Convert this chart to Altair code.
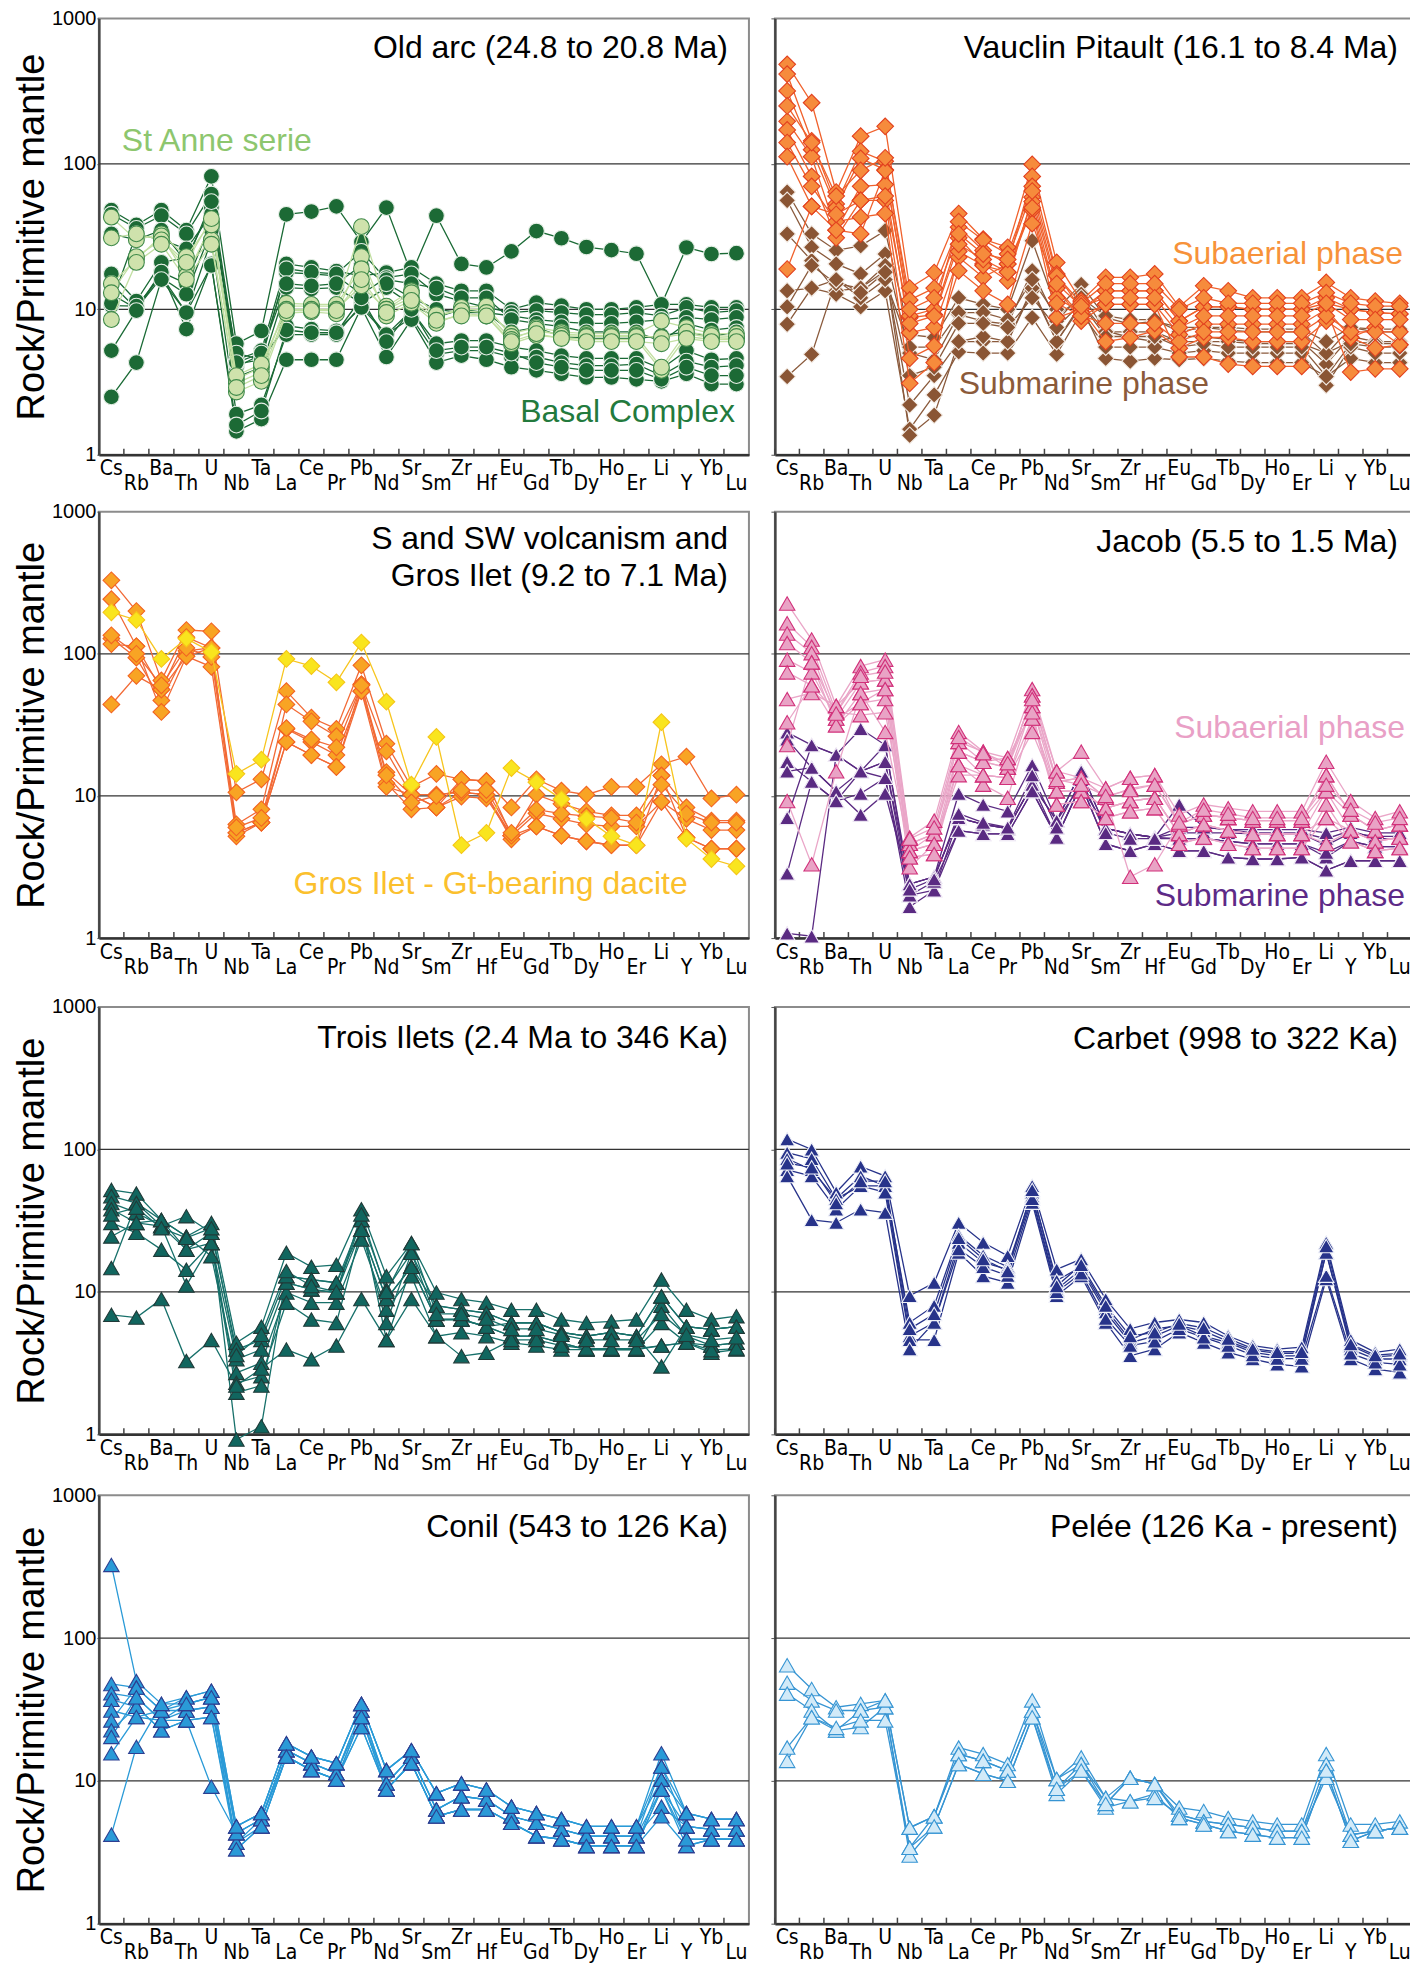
import json
import altair as alt
import pandas as pd

ELEMENTS = ["Cs", "Rb", "Ba", "Th", "U", "Nb", "Ta", "La", "Ce", "Pr", "Pb", "Nd", "Sr",
            "Sm", "Zr", "Hf", "Eu", "Gd", "Tb", "Dy", "Ho", "Er", "Li", "Y", "Yb", "Lu"]
LOWER_ROW = ELEMENTS[1::2]
GRID_VALUES = [10, 100]

# ---------------- Old arc ----------------
OLD_BASAL = [
    [48, 38, 48, 35, 82, 5.8, 7.1, 45, 47, 51, 29, 50, 17.5, 44, 20.5, 19.4, 25, 34.5, 30.8, 26.8, 25.5, 24.1, 10.8, 26.6, 24, 24.3],
    [45, 36, 44, 33, 62, 4.5, 5.2, 20.5, 19.4, 18.3, 17, 17.9, 19.4, 15, 13.4, 13.4, 10, 11.1, 10.6, 10, 10, 10.3, 10.8, 10.8, 10.3, 10.3],
    [17.5, 11.4, 21, 22.6, 50, 4, 4.9, 17.9, 17.5, 17, 12.7, 16.5, 17.5, 12.7, 11.4, 10.3, 9.5, 9.8, 9.5, 9.2, 9.2, 9.5, 9, 10.3, 9.5, 9.8],
    [15, 10.1, 18, 15, 40, 3.4, 4, 14.1, 13.8, 14.1, 11, 14.1, 10.8, 8.8, 10, 9.5, 9, 8.5, 8.2, 8, 8, 8.2, 8.5, 8.8, 8.5, 8.8],
    [12.7, 10.1, 16.5, 12.7, 35, 4.2, 4.5, 7.7, 7.3, 7.1, 10.3, 6.7, 9.8, 5.8, 6.1, 6.1, 5.5, 5.2, 4.8, 4.6, 4.6, 4.6, 3.9, 5.2, 4.5, 4.6],
    [10.6, 10.5, 17, 9.5, 30, 1.9, 2.2, 6.7, 6.7, 6.7, 10.8, 6.7, 8.8, 4.9, 5.2, 5.2, 4.7, 4.7, 4.3, 4.1, 4.1, 4.2, 3.5, 4.4, 4, 4.1],
    [5.2, 9.8, 18, 7.3, 20.5, 1.45, 1.76, 4.5, 4.5, 4.5, 10.3, 4.7, 8.5, 4.3, 4.8, 4.5, 4, 3.8, 3.6, 3.4, 3.4, 3.3, 3.2, 3.6, 3.06, 3.06],
    [2.5, 4.3, 16, 9.5, 20, 1.6, 2.0, 7.2, 6.9, 6.9, 12, 6, 10, 5.2, 5.5, 5.5, 5, 4.3, 4.0, 3.8, 3.8, 3.8, 3.3, 4, 3.5, 3.5],
    [11, 33, 30, 26, 45, 5, 4.5, 19, 18, 17.5, 25, 16, 15, 14, 12, 12, 8.5, 8, 7.6, 7, 7, 7, 6, 8, 7.2, 7.5],
    [33, 30, 35, 21, 55, 4.3, 5, 15, 14.5, 15, 20, 15, 12, 10, 9.5, 9.5, 7, 7.5, 6.5, 6.3, 6.3, 6.3, 6.6, 7, 6.5, 7],
]
OLD_STANNE = [
    [43, 30, 33, 23, 40, 3.3, 4, 10.5, 10.5, 10.5, 37, 10.5, 13.4, 9, 10, 10, 6.8, 7.5, 7, 6.8, 6.8, 6.8, 8.3, 7.5, 6.8, 6.8],
    [31, 33, 30, 19.4, 30, 2.7, 3.2, 9.4, 9.6, 9.3, 23, 9, 11, 8, 9.4, 9, 5.8, 6.6, 6.4, 6.2, 6.2, 6.2, 3.8, 6.5, 6.2, 6.2],
    [15, 22, 32, 17, 38, 3.1, 3.7, 11, 10.8, 10.8, 19, 10, 12, 8.8, 10.3, 10.5, 6.5, 7, 6.8, 6.6, 6.6, 6.6, 6.4, 6.8, 6.4, 6.3],
    [13, 23, 30, 21, 42, 3.5, 4.2, 10, 10, 10, 14.5, 10, 13, 9.2, 9.8, 9.5, 6.2, 7.3, 6.6, 6.5, 6.5, 6.5, 4, 7, 6.6, 6.5],
    [8.5, 21, 28, 16, 28, 2.9, 3.5, 9.8, 9.8, 9.8, 16, 9.5, 11.5, 8.4, 9, 9, 6, 6.8, 6.3, 6, 6, 6, 5.8, 6.3, 6, 6],
]

# ---------------- Vauclin Pitault ----------------
VP_SUBAERIAL = [
    [483, 263, 64, 155, 181, 14, 17.9, 45.5, 30.4, 26.7, 99, 21, 11.4, 16.6, 16.6, 17.5, 10.4, 14.5, 13.4, 12, 12, 12, 15.3, 12, 11.4, 11],
    [414, 144, 53, 122, 104, 11.6, 14, 36.7, 25.4, 20.5, 82, 17.5, 10, 13.4, 13.4, 13.4, 8.3, 10.4, 10.4, 10, 10, 10, 12, 10, 9.5, 9.3],
    [317, 125, 50, 109, 91, 8.75, 9.2, 31, 20.5, 15.7, 59, 14, 8.3, 10.8, 10.8, 10.8, 6.7, 7.9, 7.9, 7.9, 7.9, 7.9, 10, 6.4, 7.5, 5.7],
    [196, 112, 35, 70, 72, 6.9, 7.5, 22.8, 16.6, 20.5, 48, 8.75, 10, 6, 6.4, 7.1, 5.4, 6.4, 6.4, 6, 6, 6, 8.3, 6.4, 5.4, 5.7],
    [171, 82, 31, 56, 56, 4.6, 5.6, 18.4, 13.4, 10.8, 38.8, 14, 9, 10.8, 10.8, 10.8, 4.7, 4.7, 4.2, 4.05, 4.05, 4.05, 10, 3.7, 3.9, 3.9],
    [140, 70, 40, 43, 45.5, 3.1, 4.3, 25, 20, 18, 55, 12, 9.5, 13.4, 13.4, 13.4, 8.3, 10.4, 10.4, 10, 10, 10, 11, 10, 9.5, 9.3],
    [112, 51, 35, 33, 90, 9, 10, 40, 30, 24, 70, 17, 11, 15, 15, 15, 10, 12, 11, 11, 11, 11, 13, 11, 10.5, 10.5],
    [18.9, 51, 45, 56, 60, 8, 9, 28, 22, 18, 50, 11, 9, 8, 8, 8, 6, 7, 7, 7, 7, 7, 9, 7, 7, 7],
    [250, 140, 60, 90, 110, 10, 12, 33, 24, 22, 65, 15, 10.5, 12, 12, 12, 7.5, 9, 9, 9, 9, 9, 11, 8.5, 8.5, 8.5],
]
VP_SUBMARINE = [
    [64, 33, 25.4, 27.3, 34.7, 6.7, 6.4, 12, 10.8, 10, 29.6, 10, 14.8, 8.75, 7.9, 8.3, 7.5, 7.5, 7.2, 7, 7, 7, 4.9, 7.5, 7, 7],
    [56, 26.7, 20.5, 17.5, 24, 5, 4.5, 9.2, 8.3, 7.9, 18.4, 8.3, 12.7, 7.1, 6.4, 6, 6.5, 6.5, 6.2, 6, 6, 6, 4.2, 6.5, 6, 6],
    [33, 21.6, 13.4, 14, 18.4, 2.2, 3.5, 6, 6, 6, 13.4, 6, 10.5, 4.6, 4.4, 4.6, 4.5, 4.6, 4.4, 4.3, 4.3, 4.3, 3.45, 4.6, 4.3, 4.3],
    [13.4, 14, 12.7, 10.4, 13.4, 1.5, 2.58, 5.1, 5, 5, 8.75, 4.9, 9.5, 5.5, 5.5, 5.5, 5, 5.2, 5, 5, 5, 5, 3.0, 5.5, 5, 5],
    [10.4, 20, 15, 14, 20, 1.36, 1.87, 6, 6.5, 6, 14, 6, 11, 7, 7, 7, 6, 6, 6, 5.8, 5.8, 5.8, 5, 6, 5.8, 5.8],
    [7.9, 14, 16, 12, 16, 5.5, 5.5, 9.5, 9.5, 8.5, 16, 9, 12, 9, 8.5, 8.5, 7, 7.5, 7.5, 7.3, 7.3, 7.3, 6, 7.5, 7.3, 7.3],
    [3.45, 4.9, 16, 13, 18, 3.5, 4, 8, 8, 7.5, 12, 7.5, 11, 6.5, 6.5, 6.5, 5.5, 5.8, 5.5, 5.5, 5.5, 5.5, 3.45, 5.8, 5.5, 5.5],
]

# ---------------- S and SW volcanism / Gros Ilet ----------------
SSW_ORANGE = [
    [329, 200, 65, 147, 144, 10.6, 13.1, 54.6, 35.5, 29.6, 83, 23.3, 11.6, 14.3, 13.1, 12.7, 8.3, 13.1, 10.9, 10.2, 11.6, 11.6, 16.7, 18.9, 9.6, 10.2],
    [242, 113, 56, 131, 110, 6.3, 8.05, 44, 33.5, 26.3, 61, 20.6, 10.2, 10.2, 10.6, 10.2, 5.25, 10.2, 8.8, 7.8, 7.3, 7.3, 13.9, 8.3, 6.7, 6.7],
    [128, 94, 47, 105, 110, 5.5, 6.5, 29.6, 24, 19.4, 54.6, 14.7, 10.2, 8.3, 9.9, 9.6, 5.25, 7.55, 6.9, 6.3, 6.1, 6.1, 9.1, 6.9, 5.75, 5.75],
    [117, 113, 39, 96, 81, 5.2, 6.5, 24, 19.4, 16, 61, 12.3, 8.05, 8.3, 10.6, 10.2, 4.95, 6.1, 5.25, 4.8, 4.5, 4.5, 13.9, 5.1, 4.25, 4.25],
    [44, 70, 56, 96, 110, 5.5, 6.5, 24, 19.4, 16, 54.6, 11.6, 10.2, 8.3, 13.1, 12.7, 5.25, 6.1, 5.25, 4.8, 4.5, 4.5, 9.1, 5.1, 4.25, 4.25],
    [135, 100, 60, 110, 95, 6, 7, 30, 25, 22, 60, 14, 9, 10, 11, 11, 5.5, 8, 7.5, 7.2, 7, 6.5, 12, 7.5, 6.5, 6.5],
]
SSW_DACITE = [
    [196, 173, 92, 128, 103, 14.3, 18, 92, 82, 63, 120, 46, 12, 26, 4.5, 5.5, 15.7, 12.5, 9.5, 6.9, 5.2, 4.5, 33, 5, 3.6, 3.2],
]

# ---------------- Jacob ----------------
JACOB_SUBAERIAL = [
    [226, 126, 43, 82, 91, 5.1, 6.7, 28.2, 20.5, 18.5, 56.5, 14.9, 20.5, 11.3, 13.4, 14, 7.4, 8.7, 8.2, 7.8, 7.8, 7.8, 17.4, 9.2, 7, 7.8],
    [164, 112, 38.8, 74, 82, 4.6, 5.4, 24, 17.4, 15.8, 51, 12.6, 13.4, 9.7, 11.3, 12, 6.3, 7.4, 7, 6.7, 6.7, 6.7, 14, 7.4, 5.7, 6.3],
    [139, 101, 35, 63, 66, 4.1, 4.6, 20.5, 14, 13.4, 43, 10.8, 10.8, 8.2, 9.2, 9.7, 5.4, 6.3, 5.7, 5.4, 5.4, 5.4, 10.8, 5.7, 4.8, 5.1],
    [119, 87, 31.4, 53, 56.5, 3.7, 3.9, 16.5, 12, 9.7, 35, 8.7, 9.2, 7, 7.8, 8.2, 4.6, 5.1, 4.6, 4.3, 4.3, 4.3, 8.7, 4.8, 4.1, 4.3],
    [91, 74, 35, 45, 48, 3.15, 4.6, 14, 14, 13.4, 28.2, 10.8, 10.8, 8.2, 9.2, 9.7, 5.4, 6.3, 5.7, 5.4, 5.4, 5.4, 7, 5.7, 4.8, 5.1],
    [74, 60, 38.8, 37, 38.8, 4.6, 5.4, 20.5, 17.4, 15.8, 43, 12.6, 13.4, 9.7, 2.7, 3.3, 6.3, 7.4, 7, 6.7, 6.7, 6.7, 10.8, 7.4, 5.7, 6.3],
    [48, 53, 43, 63, 66, 4.1, 5.4, 24, 20.5, 15.8, 51, 14.9, 13.4, 11.3, 13.4, 14, 6.3, 7.4, 7, 6.7, 6.7, 6.7, 14, 7.4, 5.7, 6.3],
    [9.2, 3.3, 14.9, 53, 28.2, 4.1, 4.6, 16.5, 14, 13.4, 35, 10.8, 10.8, 8.2, 9.2, 9.7, 5.4, 6.3, 5.7, 5.4, 5.4, 5.4, 4.6, 5.7, 4.8, 5.1],
    [33, 60, 31.4, 45, 56.5, 3.7, 3.9, 20.5, 17.4, 18.5, 38.8, 8.7, 9.2, 7, 7.8, 8.2, 4.6, 5.1, 4.6, 4.3, 4.3, 4.3, 7, 4.8, 4.1, 4.3],
    [22.8, 87, 38, 70, 75, 5, 6, 26, 20, 17, 48, 13, 12, 10, 11, 12, 6.5, 8, 7.5, 7, 7, 7, 12, 8, 6.5, 7],
]
JACOB_SUBMARINE = [
    [28, 22.8, 19.5, 29.7, 22.8, 2.4, 2.7, 10.4, 8.7, 7.8, 16.5, 6.7, 14.9, 5.9, 5.4, 5.1, 8.7, 6, 5.8, 5.5, 5.5, 5.5, 5, 5.7, 5, 5],
    [25, 15.8, 10.8, 14.9, 17.4, 2.0, 2.17, 7, 6.3, 5.9, 12, 5.1, 12, 4.6, 4.1, 4.6, 4.1, 4.1, 3.7, 3.6, 3.6, 3.7, 3.0, 3.5, 3.5, 3.5],
    [17.4, 12.6, 9.2, 10.4, 13.4, 1.66, 2.17, 5.7, 5.4, 5.4, 10.8, 5.1, 12, 5.9, 5.4, 5.1, 5, 5, 4.8, 4.6, 4.6, 4.6, 3.7, 4.8, 4.4, 4.4],
    [14.9, 15.8, 10.8, 7.4, 10.4, 2.4, 2.7, 7, 6.3, 5.9, 12, 6.7, 12, 5.9, 5.4, 5.1, 5.5, 5.5, 5.5, 5.4, 5.4, 5.4, 4.5, 5.5, 5.2, 5.2],
    [7.0, 22.8, 19.5, 14.9, 17.4, 2.4, 2.7, 7, 6.3, 5.9, 12, 6.7, 14.9, 5.9, 5.4, 5.1, 6, 6, 5.8, 5.8, 5.8, 5.8, 5.5, 6, 5.5, 5.5],
    [2.85, 12.6, 9.2, 14.9, 13.4, 2.0, 2.5, 5.7, 5.4, 5.4, 10.8, 5.1, 12, 4.6, 4.1, 4.6, 4.1, 4.1, 3.7, 3.6, 3.6, 3.7, 3.0, 3.5, 3.5, 3.5],
    [1.08, 1.03, 19.5, 14.9, 22.8, 2.2, 2.6, 7.5, 6.5, 6, 14, 6, 13, 5.5, 5, 5, 5, 5, 4.8, 4.6, 4.6, 4.6, 4, 4.8, 4.4, 4.4],
]

# ---------------- Trois Ilets ----------------
TROIS = [
    [52, 49, 32, 24.5, 30.5, 4.4, 5.7, 18.8, 15, 15.5, 38, 12.9, 22, 9.9, 8.9, 8.4, 7.5, 7.5, 6.4, 6.06, 6.2, 6.4, 12.2, 7.5, 6.4, 6.75],
    [47, 42, 29, 34, 26, 3.94, 4.6, 12.9, 12.2, 11.6, 32, 10.4, 18.8, 8.0, 7.5, 7.1, 6.06, 6.06, 5.2, 4.89, 5.2, 4.89, 9.3, 5.7, 5.45, 5.7],
    [42, 36, 29, 19.8, 22, 3.36, 3.94, 11.6, 10.4, 9.9, 27.3, 8.9, 15, 6.4, 6.4, 5.7, 4.89, 4.89, 4.39, 3.94, 3.94, 3.94, 8.0, 4.89, 4.2, 4.39],
    [38, 30.5, 32, 24.5, 17.8, 2.7, 3.18, 9.9, 8.4, 8.4, 23.3, 7.5, 12.9, 4.89, 5.2, 4.89, 4.39, 4.2, 3.94, 3.94, 3.94, 3.94, 6.06, 4.39, 3.74, 3.94],
    [30.5, 26, 19.8, 14.3, 22, 2.3, 2.56, 8.4, 6.4, 6.06, 27.3, 6.06, 18.8, 6.4, 6.4, 5.7, 4.89, 4.89, 4.39, 3.94, 3.94, 3.94, 4.2, 4.39, 4.2, 4.39],
    [24.5, 30.5, 29, 11.1, 22, 1.96, 2.2, 11.6, 10.4, 9.9, 32, 4.6, 15, 8.0, 7.5, 7.1, 6.06, 6.06, 5.2, 4.89, 5.2, 4.89, 9.3, 5.7, 5.45, 5.7],
    [14.7, 42, 32, 19.8, 26, 0.92, 1.14, 12.9, 12.2, 11.6, 27.3, 8.9, 15, 6.4, 6.4, 5.7, 6.06, 6.06, 5.2, 4.89, 5.2, 4.89, 3.0, 5.7, 5.45, 5.7],
    [6.9, 6.6, 8.9, 3.27, 4.6, 2.2, 2.9, 3.94, 3.36, 4.2, 8.9, 4.6, 8.9, 4.89, 3.54, 3.74, 4.6, 4.6, 4.2, 4.0, 4.0, 4.0, 4.2, 4.4, 3.9, 4.0],
    [35, 39, 28, 24, 28, 3.6, 5.0, 14, 11, 10, 35, 10, 22, 7, 7, 6.5, 5.5, 5.5, 5, 4.6, 4.6, 4.6, 7, 5, 4.6, 4.8],
]

# ---------------- Carbet ----------------
CARBET = [
    [118, 100, 50, 76, 65, 9.4, 11.6, 30.6, 22.2, 17.9, 55.5, 14.4, 17, 8.9, 5.5, 6.1, 6.4, 6.1, 4.9, 4.2, 3.96, 4.1, 22.2, 4.6, 3.76, 3.96],
    [95, 86, 45, 65, 55.5, 6.1, 8, 25, 18, 15, 50, 12, 15, 7.6, 4.6, 5.5, 5.8, 5.3, 4.5, 3.9, 3.7, 3.7, 19, 4.2, 3.5, 3.6],
    [86, 72, 45, 55.5, 55.5, 4.9, 6.1, 22.2, 16.1, 14.4, 47, 10.4, 14.4, 7.2, 4.4, 4.9, 5.8, 4.9, 4.4, 3.76, 3.56, 3.56, 18.9, 3.96, 3.38, 3.38],
    [72, 65, 38, 55.5, 50, 4.6, 4.6, 18.9, 12.9, 11.6, 42.3, 9.4, 12.9, 6.1, 3.56, 3.96, 5.2, 4.4, 3.76, 3.38, 3.1, 3.0, 12.3, 3.38, 2.87, 2.72],
    [65, 32, 30.6, 38, 36, 3.96, 6.1, 20, 15, 13, 45, 10, 13.5, 6.5, 4.2, 4.5, 5.5, 4.8, 4.2, 3.6, 3.4, 3.4, 13, 3.7, 3.2, 3.1],
    [80, 75, 42, 60, 60, 5.5, 7, 24, 17, 14, 52, 11, 15.5, 8, 4.9, 5.2, 6, 5.6, 4.7, 4, 3.8, 3.8, 21, 4.3, 3.6, 3.7],
]

# ---------------- Conil ----------------
CONIL = [
    [325, 50, 34.6, 38.5, 42.8, 4.8, 5.95, 18.3, 14.8, 13.3, 34.6, 11.9, 16.4, 8.2, 9.6, 8.7, 6.6, 5.95, 5.4, 4.8, 4.8, 4.8, 15.6, 5.95, 5.4, 5.4],
    [47.7, 45, 31.1, 34.6, 38.5, 4.3, 5.4, 16.4, 13.3, 11.3, 31.1, 9.6, 14.8, 6.3, 7.8, 7.4, 5.65, 5.08, 4.57, 4.1, 4.1, 4.1, 12.6, 4.8, 4.57, 4.57],
    [41, 38.5, 26.5, 31.1, 33, 3.69, 4.8, 14.8, 11.9, 10.2, 28, 8.7, 13.3, 5.65, 6.3, 6.3, 5.08, 4.1, 3.9, 3.5, 3.5, 3.5, 10.2, 3.9, 3.9, 3.9],
    [37, 33, 22.6, 26.5, 28, 3.32, 4.8, 14.8, 11.9, 10.2, 23.8, 8.7, 13.3, 5.65, 6.3, 6.3, 5.08, 4.1, 3.9, 3.5, 3.5, 3.5, 8.7, 3.5, 3.9, 3.9],
    [31.1, 28, 26.5, 26.5, 9.1, 4.3, 5.4, 16.4, 13.3, 11.3, 28, 9.6, 14.8, 6.3, 7.8, 7.4, 5.65, 5.08, 4.57, 4.1, 4.1, 4.1, 6.6, 4.8, 4.57, 4.57],
    [26.5, 45, 31.1, 31.1, 33, 4.8, 5.95, 18.3, 14.8, 13.3, 34.6, 11.9, 16.4, 8.2, 9.6, 8.7, 6.6, 5.95, 5.4, 4.8, 4.8, 4.8, 12.6, 5.95, 5.4, 5.4],
    [22.6, 33, 22.6, 26.5, 28, 3.69, 5.4, 14.8, 11.9, 10.2, 23.8, 8.7, 13.3, 5.65, 6.3, 6.3, 5.08, 4.1, 3.9, 3.5, 3.5, 3.5, 5.65, 3.5, 3.9, 3.9],
    [20.3, 38.5, 26.5, 34.6, 38.5, 4.3, 5.4, 16.4, 13.3, 11.3, 31.1, 9.6, 14.8, 6.3, 7.8, 7.4, 5.65, 5.08, 4.57, 4.1, 4.1, 4.1, 8.7, 4.8, 4.57, 4.57],
    [15.6, 28, 31.1, 38.5, 42.8, 4.8, 5.95, 18.3, 14.8, 13.3, 34.6, 11.9, 16.4, 8.2, 9.6, 8.7, 6.6, 5.95, 5.4, 4.8, 4.8, 4.8, 10.2, 5.95, 5.4, 5.4],
    [4.2, 17.3, 34.6, 34.6, 38.5, 3.32, 4.8, 14.8, 11.9, 10.2, 28, 8.7, 13.3, 5.65, 6.3, 6.3, 5.08, 4.1, 3.9, 3.5, 3.5, 3.5, 8.7, 3.9, 3.9, 3.9],
]

# ---------------- Pelée ----------------
PELEE = [
    [64.5, 44, 32.8, 34.6, 36.6, 4.7, 5.65, 17.1, 15.4, 13.1, 36.6, 10.3, 14.6, 7.6, 10.5, 9.5, 6.5, 6.15, 5.5, 5.2, 4.95, 4.95, 15.4, 4.95, 4.95, 5.2],
    [48.7, 36.6, 31.1, 31.1, 32.8, 3.4, 5.65, 15.4, 13.8, 11.8, 31.1, 8.8, 13.1, 6.9, 10.5, 9.5, 5.8, 5.2, 4.95, 4.7, 4.45, 4.45, 13.1, 4.2, 4.45, 4.7],
    [40.8, 31.1, 22.5, 23.8, 32.8, 3.0, 4.8, 13.1, 11.2, 10, 27.9, 8.1, 11.8, 6.5, 7.2, 8.1, 5.5, 4.95, 4.45, 4.2, 4.0, 4.0, 11.8, 3.8, 4.45, 4.7],
    [17.1, 27.9, 22.5, 31.1, 36.6, 4.7, 5.65, 15.4, 13.8, 11.8, 31.1, 10.3, 13.1, 7.6, 7.2, 7.6, 5.8, 5.2, 4.95, 4.7, 4.45, 4.45, 10.5, 4.2, 4.45, 4.7],
    [13.8, 27.9, 23.5, 26.5, 26.5, 3.4, 4.8, 13.1, 11.2, 10, 27.9, 8.8, 11.8, 6.9, 10.5, 9.5, 5.5, 4.95, 4.45, 4.2, 4.0, 4.0, 11.8, 3.8, 4.45, 4.7],
]

for grp in [OLD_BASAL, OLD_STANNE, VP_SUBAERIAL, VP_SUBMARINE, SSW_ORANGE, SSW_DACITE,
            JACOB_SUBAERIAL, JACOB_SUBMARINE, TROIS, CARBET, CONIL, PELEE]:
    for r in grp:
        assert len(r) == len(ELEMENTS), r

FONT = "Liberation Sans, Arial, sans-serif"
NARROW = "Liberation Sans Narrow, Arial Narrow, DejaVu Sans Condensed, Liberation Sans, sans-serif"

ROW_H = [437, 427, 428, 429]
W_L = 651
W_R = 638
S_H = 18
TITLE_SIZE = 32
NOTE_SIZE = 32

XSCALE = alt.Scale(type="band", domain=ELEMENTS, paddingInner=0, paddingOuter=0)
YSCALE = alt.Scale(type="log", domain=[1, 1000], nice=False)
LABEL_EXPR = ("indexof(" + json.dumps(LOWER_ROW).replace('"', "'") +
              ", datum.label) >= 0 ? ['', datum.label] : datum.label")


def xaxis():
    return alt.Axis(title=None, labelAngle=0, labelExpr=LABEL_EXPR, labelFont=NARROW,
                    labelFontSize=21, labelLineHeight=15, labelPadding=3, labelColor="black",
                    ticks=False, domainColor="#333333", domainWidth=2.5, labelOverlap=False,
                    grid=False)


def yaxis(left):
    if left:
        return alt.Axis(values=[1, 10, 100, 1000], format="d", grid=False,
                        title="Rock/Primitive mantle", titleFont=FONT, titleFontSize=38,
                        titleFontWeight="normal", titleColor="black", titlePadding=0,
                        labelFont=FONT, labelFontSize=20, labelColor="black", labelPadding=1,
                        labelFlush=False, labelOverlap=False, tickSize=2, tickColor="#555555",
                        domainColor="#444444", domainWidth=2.5)
    return alt.Axis(values=[1, 10, 100, 1000], grid=False, title=None, labels=False,
                    tickSize=4, tickColor="#555555", domainColor="#444444", domainWidth=2.5)


def long_df(rows, tag):
    recs = []
    for i, row in enumerate(rows):
        for j, (el, v) in enumerate(zip(ELEMENTS, row)):
            recs.append({"sample": f"{tag}{i}", "el": el, "idx": j, "v": v})
    return pd.DataFrame(recs)


def text_layer(text, x, y, color, size, align="left", line_height=None):
    kw = dict(text=text, align=align, baseline="alphabetic", font=FONT, fontSize=size, color=color)
    if line_height:
        kw["lineHeight"] = line_height
    return alt.Chart(pd.DataFrame({"t": [0]})).mark_text(**kw).encode(
        x=alt.value(x), y=alt.value(y))


def panel(groups, notes, title, left, H, title_y=41):
    W = W_L if left else W_R

    def X(bp):
        return alt.X("el:N", scale=XSCALE, axis=xaxis(), bandPosition=bp)

    def Y():
        return alt.Y("v:Q", scale=YSCALE, axis=yaxis(left))

    layers = [
        alt.Chart(pd.DataFrame({"v": GRID_VALUES})).mark_rule(color="#333333", strokeWidth=1.2)
        .encode(y=Y()),
        alt.Chart(pd.DataFrame({"el": ELEMENTS})).mark_rule(color="#444444", strokeWidth=1.5)
        .encode(x=X(0), y=alt.value(H), y2=alt.value(H - 6)),
    ]
    for g in groups:
        base = alt.Chart(long_df(g["rows"], g["tag"]))
        layers.append(base.mark_line(color=g["line"], strokeWidth=1.3).encode(
            x=X(0.5), y=Y(), detail="sample:N", order="idx:Q"))
        layers.append(base.mark_point(shape=g["shape"], size=g["size"], fill=g["fill"],
                                      fillOpacity=1, stroke=g["stroke"], strokeWidth=1.1,
                                      opacity=1).encode(x=X(0.5), y=Y(), detail="sample:N"))
    for (t, x, y, c, al) in notes:
        layers.append(text_layer(t, x, y, c, NOTE_SIZE, align=al))
    tx = W - 21 if left else W - 14
    if isinstance(title, list):
        layers.append(text_layer(title, tx, title_y, "black", TITLE_SIZE, align="right", line_height=37))
    else:
        layers.append(text_layer(title, tx, title_y, "black", TITLE_SIZE, align="right"))
    return alt.layer(*layers).properties(width=W, height=H)


p_old = panel(
    [dict(rows=OLD_BASAL, tag="b", line="#1a6a35", shape="circle", size=250, fill="#1c6a35", stroke="#e6efe6"),
     dict(rows=OLD_STANNE, tag="s", line="#c2dfa2", shape="circle", size=250, fill="#cfe2ac", stroke="#3f8a4a")],
    [("St Anne serie", 23, 133, "#8dc66e", "left"), ("Basal Complex", 637, 404, "#237a3d", "right")],
    "Old arc (24.8 to 20.8 Ma)", True, ROW_H[0], title_y=40)

p_vp = panel(
    [dict(rows=VP_SUBMARINE, tag="m", line="#8a5a3c", shape="diamond", size=280, fill="#8a5534", stroke="#f3ebe4"),
     dict(rows=VP_SUBAERIAL, tag="a", line="#f0612c", shape="diamond", size=280, fill="#f68b3c", stroke="#e2401f")],
    [("Subaerial phase", 629, 246, "#f7923a", "right"), ("Submarine phase", 184, 376, "#8b5a3a", "left")],
    "Vauclin Pitault (16.1 to 8.4 Ma)", False, ROW_H[0], title_y=40)

p_ssw = panel(
    [dict(rows=SSW_ORANGE, tag="o", line="#f26a36", shape="diamond", size=280, fill="#f8a424", stroke="#f26322"),
     dict(rows=SSW_DACITE, tag="y", line="#f7c51e", shape="diamond", size=280, fill="#f9e51e", stroke="#f5c518")],
    [("Gros Ilet - Gt-bearing dacite", 195, 383, "#fbc02d", "left")],
    ["S and SW volcanism and", "Gros Ilet (9.2 to 7.1 Ma)"], True, ROW_H[1], title_y=37)

p_jacob = panel(
    [dict(rows=JACOB_SUBMARINE, tag="m", line="#5a2a82", shape="triangle-up", size=240, fill="#5a2a82", stroke="#f0eaf5"),
     dict(rows=JACOB_SUBAERIAL, tag="a", line="#eaa6c8", shape="triangle-up", size=240, fill="#e9a3c5", stroke="#d1307a")],
    [("Subaerial phase", 631, 227, "#e9a0c6", "right"), ("Submarine phase", 631, 395, "#5d2a87", "right")],
    "Jacob (5.5 to 1.5 Ma)", False, ROW_H[1], title_y=40)

p_trois = panel(
    [dict(rows=TROIS, tag="t", line="#17706a", shape="triangle-up", size=240, fill="#11665f", stroke="#203a38")],
    [], "Trois Ilets (2.4 Ma to 346 Ka)", True, ROW_H[2])

p_carbet = panel(
    [dict(rows=CARBET, tag="c", line="#27338a", shape="triangle-up", size=240, fill="#27338a", stroke="#eef0f8")],
    [], "Carbet (998 to 322 Ka)", False, ROW_H[2], title_y=42)

p_conil = panel(
    [dict(rows=CONIL, tag="n", line="#2a9ad7", shape="triangle-up", size=240, fill="#2a9ad7", stroke="#2d3f91")],
    [], "Conil (543 to 126 Ka)", True, ROW_H[3], title_y=42)

p_pelee = panel(
    [dict(rows=PELEE, tag="e", line="#3795d3", shape="triangle-up", size=240, fill="#d2eaf8", stroke="#3795d3")],
    [], "Pelée (126 Ka - present)", False, ROW_H[3], title_y=42)

r1 = alt.hconcat(p_old, p_vp, spacing=S_H)
r2 = alt.hconcat(p_ssw, p_jacob, spacing=S_H)
r3 = alt.hconcat(p_trois, p_carbet, spacing=S_H)
r4 = alt.hconcat(p_conil, p_pelee, spacing=S_H)

lower = alt.vconcat(r3, r4, spacing=10)
middle = alt.vconcat(r2, lower, spacing=18)
chart = alt.vconcat(r1, middle, spacing=6).properties(
    padding={"top": -2, "left": 4, "right": -4, "bottom": 0}, background="white"
).configure(font=FONT).configure_view(stroke="#8c8c8c", strokeWidth=2)

chart.save("out.html", embed_options={"renderer": "svg", "actions": False})
